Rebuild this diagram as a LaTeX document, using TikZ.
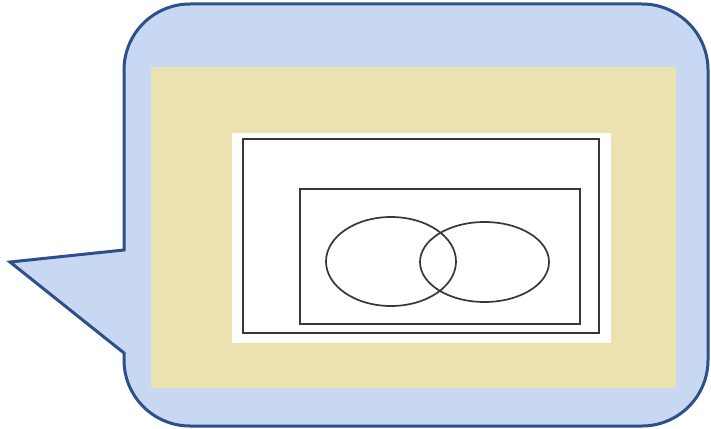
\documentclass[tikz,border=0pt]{standalone}
\usepackage{xcolor}
\usepackage{tikz}
\usetikzlibrary{positioning, calc}
\definecolor{bubbleblue}{RGB}{200,216,243}
\definecolor{bubbleedge}{RGB}{45,80,140}
\definecolor{sandfill}{RGB}{236,225,176}
\definecolor{framegray}{RGB}{55,55,55}
\tikzset{
  bubble/.style={fill=bubbleblue, draw=bubbleedge, line width=3pt, line join=miter},
  frame/.style={draw=framegray, line width=2pt},
  venn/.style={draw=framegray, line width=1.7pt}
}
\begin{document}
\begin{tikzpicture}[x=1pt, y=-1pt]
    \useasboundingbox (0,0) rectangle (711,428);
    % speech bubble with tail to the left
    \draw[bubble] (124,250) -- (10,262) -- (124,353)
      [rounded corners=66] -- (124,426) -- (708,426) -- (708,4) -- (124,4)
      [sharp corners] -- cycle;
    \fill[sandfill] (151,67) rectangle (676,388);
    \fill[white] (232,133) rectangle (611,343);
    % universe and subset
    \draw[frame] (243,139) rectangle (599,333);
    \draw[frame] (300,189) rectangle (580,324);
    % two sets
    \draw[venn] (391,261.5) ellipse [x radius=65, y radius=44.5];
    \draw[venn] (484.5,262) ellipse [x radius=64.5, y radius=40];
  \end{tikzpicture}
\end{document}
